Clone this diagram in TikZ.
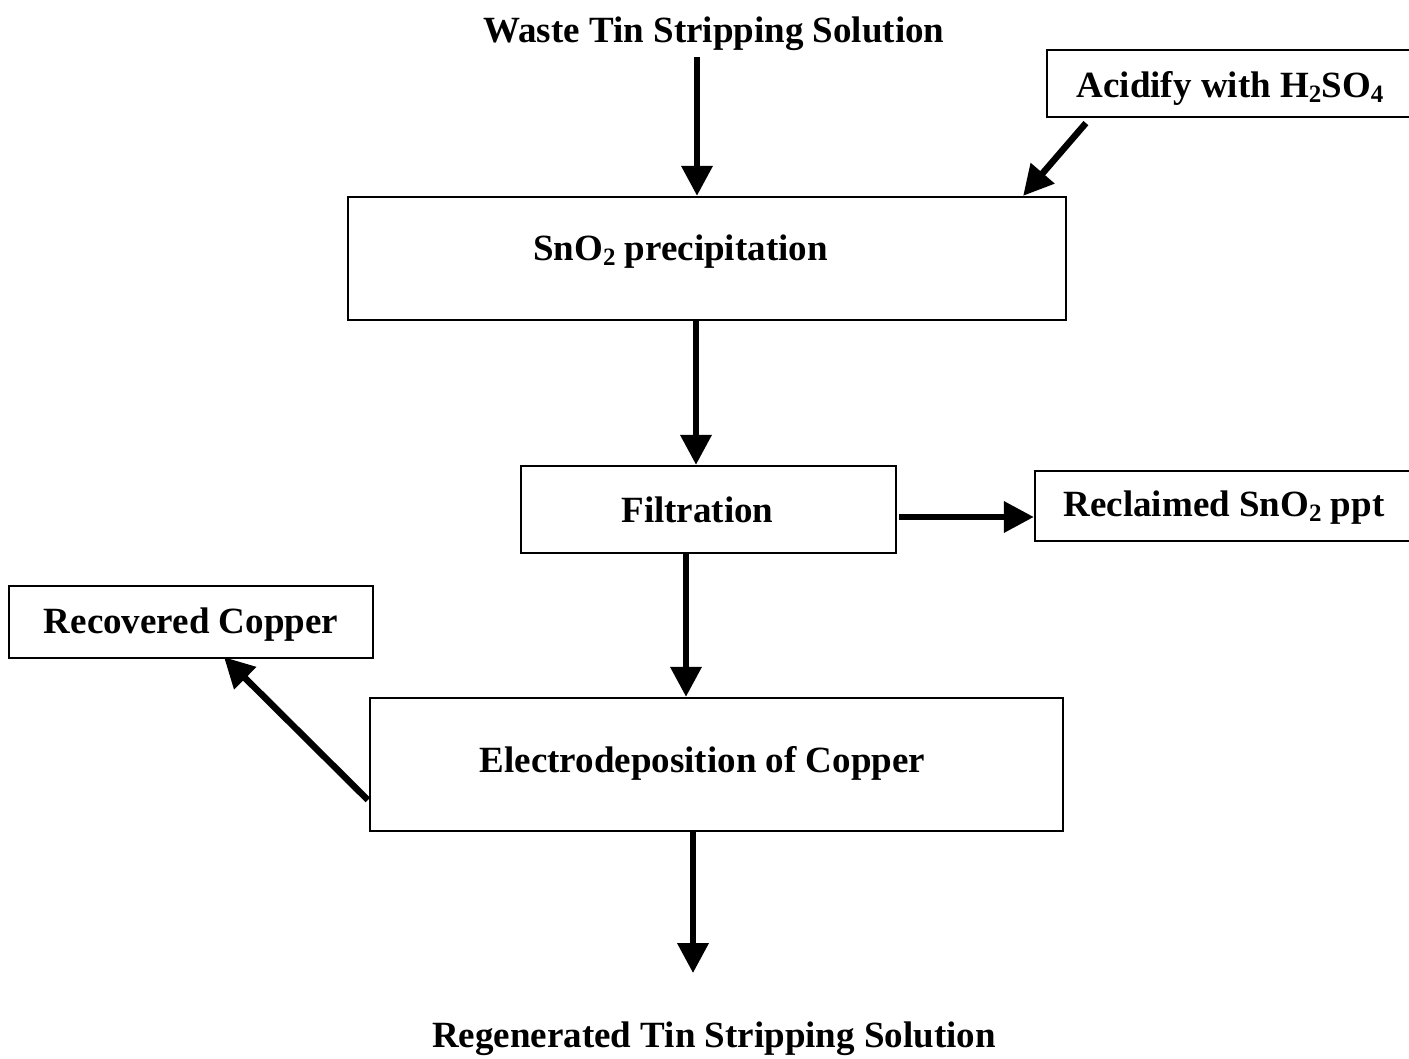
\documentclass[tikz,border=0pt]{standalone}
\usepackage{fontspec}
\setmainfont{Liberation Serif}
\usetikzlibrary{arrows.meta,calc}

% chemical subscript: smaller digit, slightly lowered
\newcommand\chemsub[1]{\raisebox{-5pt}{\fontsize{25}{25}\selectfont #1}}

\tikzset{
  box/.style={draw=black, line width=2.2pt, rectangle, inner sep=0pt},
  txt/.style={font=\bfseries\fontsize{37}{44}\selectfont, inner sep=0pt, anchor=base},
  flow/.style={line width=6.5pt, -{Triangle[width=30pt,length=30pt]}},
}

\begin{document}
\begin{tikzpicture}[x=1pt,y=-1pt]
  \path[use as bounding box] (0,0) rectangle (1409,1059);
  \clip (0,0) rectangle (1409,1059);

  % process boxes
  \node[box, minimum width=383, minimum height=67] (acid) at (1238.5,83.5) {};
  \node[box, minimum width=718, minimum height=123] (prec) at (707,258.5) {};
  \node[box, minimum width=375, minimum height=87] (filt) at (708.5,509.5) {};
  \node[box, minimum width=395, minimum height=70] (recl) at (1232.5,506) {};
  \node[box, minimum width=364, minimum height=72] (recov) at (191,622) {};
  \node[box, minimum width=693, minimum height=133] (elec) at (716.5,764.5) {};

  % labels
  \node[txt] (waste) at (714,43) {Waste Tin Stripping Solution};
  \node[txt] (acidT) at (1230,98) {Acidify with H\chemsub{2}SO\chemsub{4}};
  \node[txt] (precT) at (680.5,261) {SnO\chemsub{2} precipitation};
  \node[txt] (filtT) at (697.5,522) {Filtration};
  \node[txt] (reclT) at (1224,516) {Reclaimed SnO\chemsub{2} ppt};
  \node[txt] (recovT) at (191,633) {Recovered Copper};
  \node[txt] (elecT) at (702.5,772) {Electrodeposition of Copper};
  \node[txt] (regen) at (714,1047) {Regenerated Tin Stripping Solution};

  % flow arrows
  \draw[flow] ($(waste.south -| 697,0)+(0,6)$) -- (prec.north -| 697,0);
  \draw[flow] ($(acid.south west)+(40,5)$) -- ($(prec.north east)+(-44,0)$);
  \draw[flow] (prec.south -| 696,0) -- (filt.north -| 696,0);
  \draw[flow] ($(filt.east)+(2,7.5)$) -- ($(filt.east -| recl.west)+(0,7.5)$);
  \draw[flow] (filt.south -| 686,0) -- (elec.north -| 686,0);
  \draw[flow] ($(elec.west)+(-1,35.5)$) -- ($(recov.south)+(33,-2)$);
  \draw[flow] (elec.south -| 693,0) -- ($(regen.north -| 693,0)+(0,-48)$);
\end{tikzpicture}
\end{document}
